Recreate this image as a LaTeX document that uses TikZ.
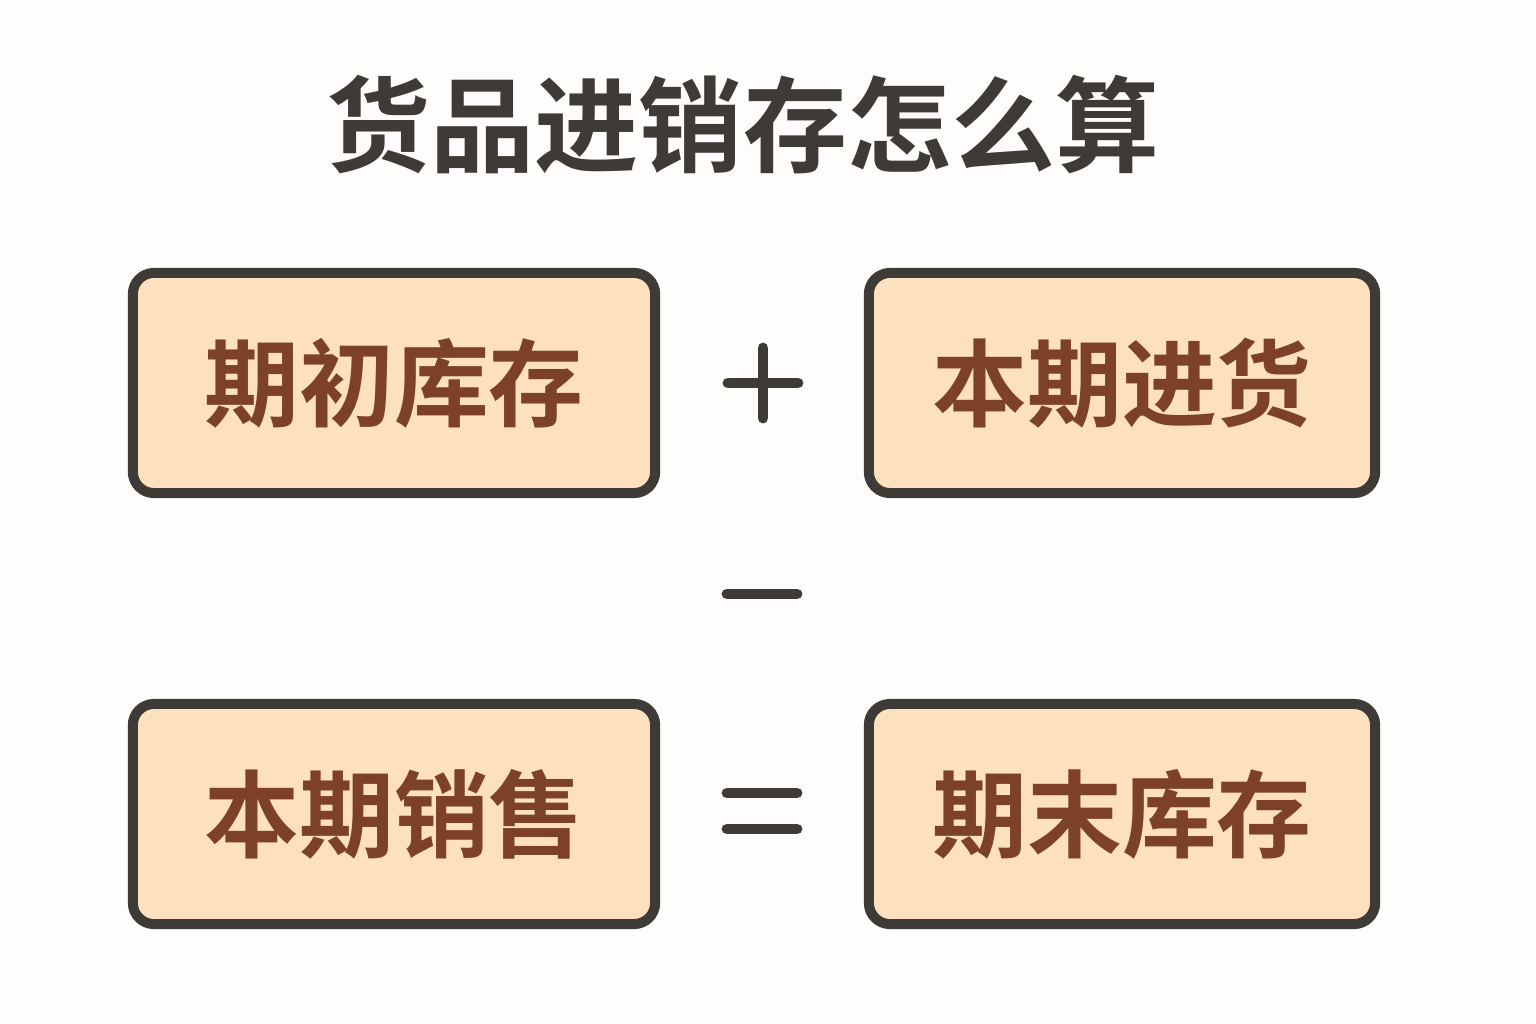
\documentclass[tikz,border=0pt]{standalone}
\usepackage{fontspec}
\newfontfamily\cjk{Noto Sans CJK SC}[BoldFont={Noto Sans CJK SC Bold}]
\usetikzlibrary{positioning}
\definecolor{inkdark}{HTML}{3E3A36}
\definecolor{peach}{HTML}{FDE1BE}
\definecolor{rust}{HTML}{7D4128}
\definecolor{paper}{HTML}{FEFDFB}
\tikzset {
  stock box/.style = {
    draw=inkdark,
    fill=peach,
    line width=2.85pt,
    rounded corners=6pt,
    minimum width=5.22cm,
    minimum height=2.2cm,
    inner sep=0pt,
    text=rust,
    font=\cjk\bfseries\fontsize{27}{30}\selectfont
  },
  op line/.style = {
    draw=inkdark,
    line width=3.1pt,
    line cap=round
  }
}

\begin{document}
\begin{tikzpicture}[x=0.01cm, y=-0.01cm]

% --- canvas ---
\fill[paper] (0,0) rectangle (1536,1024);
\useasboundingbox (0,0) rectangle (1536,1024);

% --- title ---
\node[text=inkdark, font=\cjk\bfseries\fontsize{29.6}{32}\selectfont]
  (title) at (743,125) {货品进销存怎么算};

% --- boxes ---
\node[stock box] (opening)  at (394,383) {期初库存};
\node[stock box, minimum width=5.06cm] (purchase) at (1122,383) {本期进货};
\node[stock box] (sales)    at (394,814) {本期销售};
\node[stock box, minimum width=5.06cm] (closing)  at (1122,814) {期末库存};

% --- operators ---
\coordinate (plus)  at (763,383);
\coordinate (minus) at (762,594);
\coordinate (equal) at (762,811);

\draw[op line] (plus) ++(-35,0) -- ++(70,0);
\draw[op line] (plus) ++(0,-35) -- ++(0,70);
\draw[op line] (minus) ++(-35,0) -- ++(70,0);
\draw[op line] (equal) ++(-35,-18) -- ++(70,0);
\draw[op line] (equal) ++(-35,18) -- ++(70,0);

\end{tikzpicture}
\end{document}
